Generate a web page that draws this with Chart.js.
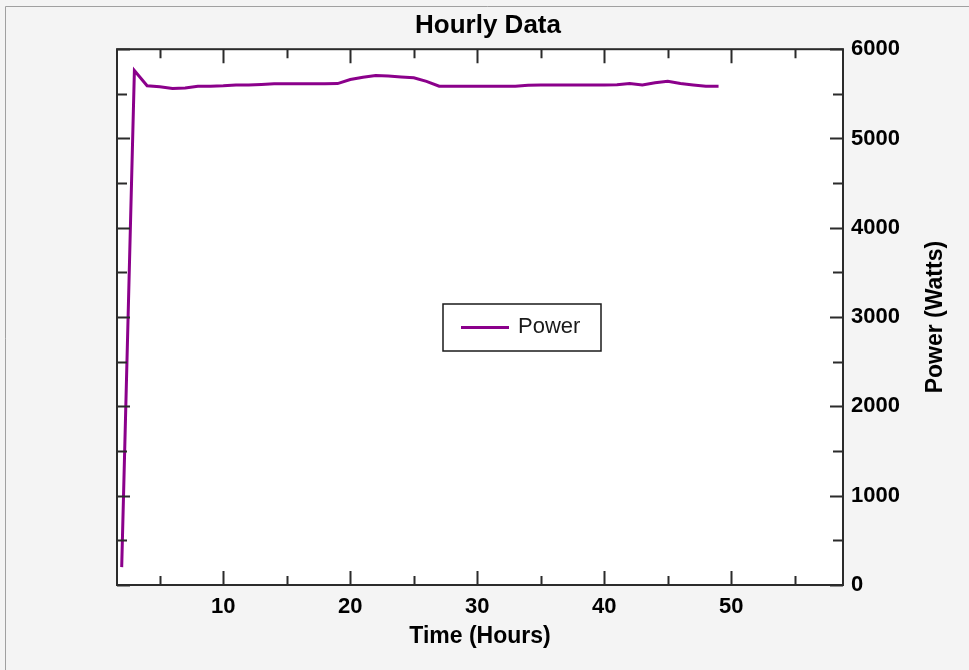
<!DOCTYPE html>
<html><head><meta charset="utf-8">
<script src="https://cdn.jsdelivr.net/npm/chart.js@4.4.0/dist/chart.umd.min.js"></script>
<style>html,body{margin:0;padding:0;background:#f4f4f4;overflow:hidden;} #wrap{width:969px;height:670px;}</style>
</head><body><div id="wrap"><canvas id="c" width="969" height="670"></canvas></div>
<script>
const hours = [2,3,4,5,6,7,8,9,10,11,12,13,14,15,16,17,18,19,20,21,22,23,24,25,26,27,28,29,30,31,32,33,34,35,36,37,38,39,40,41,42,43,44,45,46,47,48,49];
const power = [200,5760,5590,5580,5560,5565,5585,5585,5590,5600,5600,5605,5612,5612,5612,5612,5612,5615,5660,5685,5705,5700,5690,5680,5640,5585,5585,5585,5585,5585,5585,5585,5595,5600,5600,5600,5600,5600,5600,5603,5615,5600,5625,5640,5615,5600,5585,5585];
const xTickValues = [10,20,30,40,50];
const xMinorTicks = [5,15,25,35,45,55];
const yTickValues = [0,1000,2000,3000,4000,5000,6000];
const yMinorTicks = [500,1500,2500,3500,4500,5500];
const chartTitle = 'Hourly Data';
const xTitle = 'Time (Hours)';
const yTitle = 'Power (Watts)';
const seriesName = 'Power';

const FAMILY = '"Liberation Sans", Arial, sans-serif';
const AXIS = '#2b2b2b';

const decorPlugin = {
  id: 'decor',
  beforeDraw(chart) {
    const ctx = chart.ctx, a = chart.chartArea;
    ctx.save();
    ctx.fillStyle = '#f4f4f4';
    ctx.fillRect(0, 0, chart.width, chart.height);
    ctx.strokeStyle = '#a0a0a0';
    ctx.lineWidth = 1;
    ctx.beginPath();
    ctx.moveTo(5.5, chart.height); ctx.lineTo(5.5, 6.5); ctx.lineTo(chart.width, 6.5);
    ctx.stroke();
    ctx.fillStyle = '#ffffff';
    ctx.fillRect(a.left, a.top, a.right - a.left, a.bottom - a.top);
    ctx.restore();
  },
  afterDraw(chart) {
    const ctx = chart.ctx, a = chart.chartArea;
    const xs = chart.scales.x, ys = chart.scales.y;
    ctx.save();
    ctx.strokeStyle = AXIS;
    ctx.lineWidth = 2;
    ctx.strokeRect(a.left, a.top, a.right - a.left, a.bottom - a.top);
    ctx.beginPath();
    const tickX = (v, len) => {
      const p = Math.round(xs.getPixelForValue(v)) + 0.5;
      if (p < a.left || p > a.right) return;
      ctx.moveTo(p, a.bottom); ctx.lineTo(p, a.bottom - len);
      ctx.moveTo(p, a.top); ctx.lineTo(p, a.top + len);
    };
    const tickY = (v, len) => {
      const p = Math.round(ys.getPixelForValue(v)) + 0.5;
      ctx.moveTo(a.left, p); ctx.lineTo(a.left + len, p);
      ctx.moveTo(a.right, p); ctx.lineTo(a.right - len, p);
    };
    xTickValues.forEach(v => tickX(v, 14));
    xMinorTicks.forEach(v => tickX(v, 9));
    yTickValues.forEach(v => tickY(v, 13));
    yMinorTicks.forEach(v => tickY(v, 10));
    ctx.stroke();

    // y axis title, reading bottom to top
    ctx.fillStyle = '#000';
    ctx.font = 'bold 23px ' + FAMILY;
    ctx.textAlign = 'center';
    ctx.textBaseline = 'middle';
    ctx.translate(936, (a.top + a.bottom) / 2);
    ctx.rotate(-Math.PI / 2);
    ctx.fillText(yTitle, 0, 0);
    ctx.restore();

    // legend
    const ds = chart.data.datasets[0];
    ctx.save();
    ctx.fillStyle = '#ffffff';
    ctx.fillRect(443, 304, 158, 47);
    ctx.strokeStyle = '#1a1a1a';
    ctx.lineWidth = 1.5;
    ctx.strokeRect(443, 304, 158, 47);
    ctx.strokeStyle = ds.borderColor;
    ctx.lineWidth = 3;
    ctx.beginPath(); ctx.moveTo(461, 327.5); ctx.lineTo(509, 327.5); ctx.stroke();
    ctx.fillStyle = '#1a1a1a';
    ctx.font = '22px ' + FAMILY;
    ctx.textAlign = 'left';
    ctx.textBaseline = 'middle';
    ctx.fillText(ds.label, 518, 327);
    ctx.restore();
  }
};

new Chart(document.getElementById('c'), {
  type: 'line',
  data: {
    datasets: [{
      label: seriesName,
      data: hours.map((h, i) => ({x: h, y: power[i]})),
      borderColor: '#8b008b',
      borderWidth: 3,
      pointRadius: 0,
      tension: 0,
      fill: false
    }]
  },
  options: {
    responsive: false,
    animation: false,
    devicePixelRatio: 1,
    layout: {padding: {left: 7, right: 0, top: 0, bottom: 0}},
    plugins: {
      legend: {display: false},
      tooltip: {enabled: false},
      title: {
        display: true, text: chartTitle, color: '#000',
        font: {family: FAMILY, size: 26, weight: 'bold'},
        padding: {top: 10, bottom: 8}
      }
    },
    scales: {
      x: {
        type: 'linear', position: 'bottom', min: 1.63, max: 58.8,
        grid: {display: false, drawTicks: false},
        border: {display: false},
        afterBuildTicks: s => { s.ticks = xTickValues.map(v => ({value: v})); },
        ticks: {autoSkip: false, maxRotation: 0, color: '#000', padding: 9,
          font: {family: FAMILY, size: 22, weight: 'bold'}, callback: v => String(v)},
        title: {display: true, text: xTitle, color: '#000',
          font: {family: FAMILY, size: 23, weight: 'bold'}, padding: {top: 0, bottom: 20}},
        afterFit: s => { s.height = 85; }
      },
      y: {
        type: 'linear', position: 'right', min: 0, max: 6000,
        grid: {display: false, drawTicks: false},
        border: {display: false},
        afterBuildTicks: s => { s.ticks = yTickValues.map(v => ({value: v})); },
        ticks: {autoSkip: false, color: '#000', padding: 8,
          font: {family: FAMILY, size: 22, weight: 'bold'}, callback: v => String(v)},
        afterFit: s => { s.width = 126; }
      },
      yLeft: {
        type: 'linear', position: 'left', display: true,
        grid: {display: false, drawTicks: false},
        border: {display: false},
        ticks: {display: false},
        afterFit: s => { s.width = 110; }
      }
    }
  },
  plugins: [decorPlugin]
});
</script>
</body></html>
